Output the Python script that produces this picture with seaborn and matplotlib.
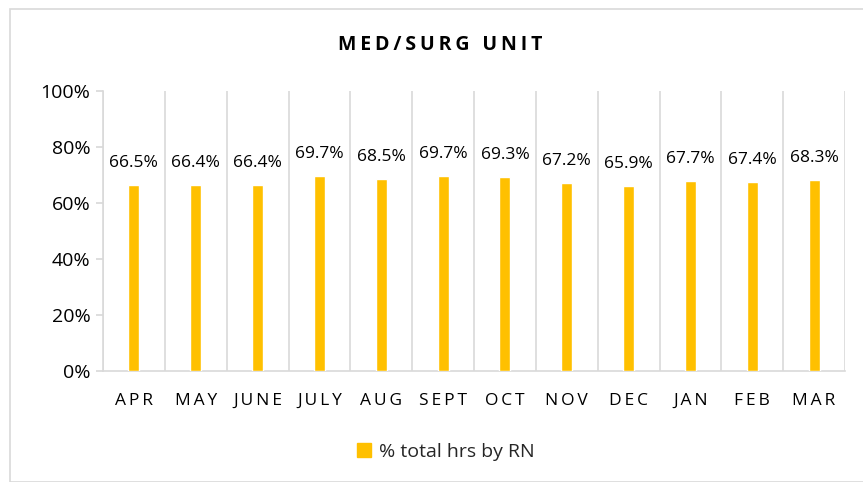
import matplotlib.pyplot as plt
import matplotlib.patches as mpatches
from matplotlib.ticker import FuncFormatter, FixedLocator
import seaborn as sns
import pandas as pd

months = ["APR", "MAY", "JUNE", "JULY", "AUG", "SEPT", "OCT", "NOV", "DEC", "JAN", "FEB", "MAR"]
pct_rn = [66.5, 66.4, 66.4, 69.7, 68.5, 69.7, 69.3, 67.2, 65.9, 67.7, 67.4, 68.3]
series_name = "% total hrs by RN"
title = "MED/SURG UNIT"

bar_color = "#FFC000"
grid_color = "#D9D9D9"


def spaced(s):
    # imitate Excel's expanded character spacing with thin spaces
    return "\u2009".join(s)


sns.set_theme(style="white")
plt.rcParams['font.family'] = ['Open Sans', 'DejaVu Sans']

df = pd.DataFrame({"month": months, "pct": [v / 100 for v in pct_rn]})

fig = plt.figure(figsize=(8.63, 4.82), dpi=100)
ax = fig.add_axes([103 / 863, 1 - 371 / 482, (845 - 103) / 863, (371 - 91) / 482])

sns.barplot(data=df, x="month", y="pct", color=bar_color, width=0.18,
            saturation=1, ax=ax, zorder=3)

for i, v in enumerate(pct_rn):
    ax.text(i, v / 100 + 0.05, f"{v:.1f}%", ha="center", va="bottom",
            fontsize=12.5, color="#000000")

ax.set_ylim(0, 1)
ax.set_xlim(-0.5, len(months) - 0.5)
ax.yaxis.set_major_locator(FixedLocator([0, 0.2, 0.4, 0.6, 0.8, 1.0]))
ax.yaxis.set_major_formatter(FuncFormatter(lambda y, _: f"{y * 100:.0f}%"))

# vertical gridlines between categories
ax.set_xticks(range(len(months)))
ax.set_xticklabels([spaced(m) for m in months])
for b in range(len(months) + 1):
    ax.axvline(b - 0.5, color=grid_color, lw=1.2, zorder=1)

for s in ["top", "right"]:
    ax.spines[s].set_visible(False)
ax.spines["left"].set_color(grid_color)
ax.spines["bottom"].set_color(grid_color)
ax.spines["left"].set_linewidth(1.2)
ax.spines["bottom"].set_linewidth(1.2)

ax.tick_params(axis="y", which="major", left=True, length=5, color=grid_color,
               labelsize=14, labelcolor="#000000", pad=4)
ax.tick_params(axis="x", bottom=False, labelsize=12.5, labelcolor="#000000", pad=10)
ax.set_xlabel("")
ax.set_ylabel("")

fig.text(440 / 863, 1 - 45 / 482, spaced(title), ha="center", va="center",
         fontsize=14, fontweight="bold", color="#000000")

handle = mpatches.Patch(color=bar_color, label=series_name)
fig.legend(handles=[handle], loc="center", bbox_to_anchor=(446 / 863, 1 - 452 / 482),
           frameon=False, fontsize=14, handlelength=0.7, handleheight=0.7,
           handletextpad=0.4)

# chart border
fig.patches.append(mpatches.Rectangle((10 / 863, 0), 1, 1 - 9 / 482, transform=fig.transFigure,
                                      fill=False, edgecolor=grid_color, lw=1.2))

fig.savefig("out.png", dpi=100)
